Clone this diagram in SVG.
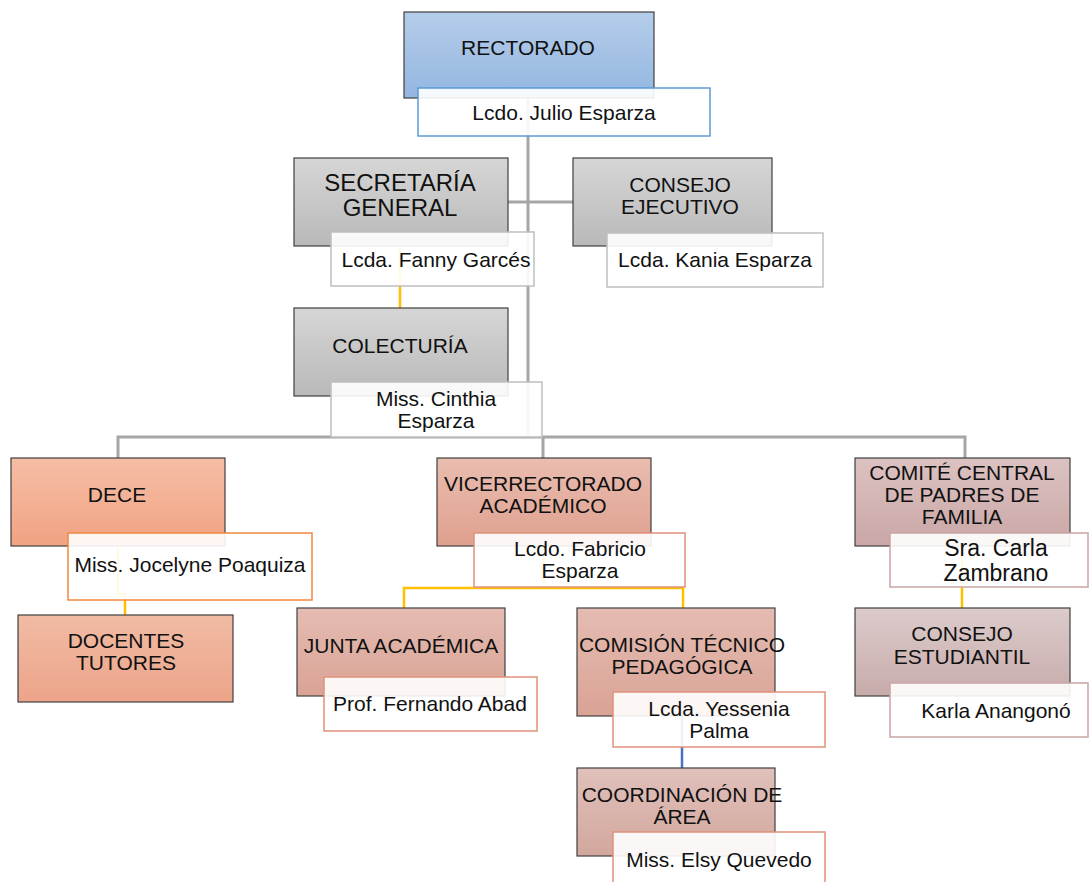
<svg xmlns="http://www.w3.org/2000/svg" width="1089" height="882" viewBox="0 0 1089 882">
<defs>
<linearGradient id="gBlue" x1="0" y1="0" x2="0" y2="1"><stop offset="0" stop-color="#b5cdea"/><stop offset="1" stop-color="#93b6e0"/></linearGradient>
<linearGradient id="gGray" x1="0" y1="0" x2="0" y2="1"><stop offset="0" stop-color="#d6d6d6"/><stop offset="1" stop-color="#b9b9b9"/></linearGradient>
<linearGradient id="gOrange" x1="0" y1="0" x2="0" y2="1"><stop offset="0" stop-color="#f5bea6"/><stop offset="1" stop-color="#f1a282"/></linearGradient>
<linearGradient id="gOrange2" x1="0" y1="0" x2="0" y2="1"><stop offset="0" stop-color="#f1bba4"/><stop offset="1" stop-color="#eca489"/></linearGradient>
<linearGradient id="gRose" x1="0" y1="0" x2="0" y2="1"><stop offset="0" stop-color="#e9bdb0"/><stop offset="1" stop-color="#dfa08e"/></linearGradient>
<linearGradient id="gRose2" x1="0" y1="0" x2="0" y2="1"><stop offset="0" stop-color="#e5bcb2"/><stop offset="1" stop-color="#d9a395"/></linearGradient>
<linearGradient id="gRose3" x1="0" y1="0" x2="0" y2="1"><stop offset="0" stop-color="#e0c1bb"/><stop offset="1" stop-color="#d2a79d"/></linearGradient>
<linearGradient id="gMauve" x1="0" y1="0" x2="0" y2="1"><stop offset="0" stop-color="#dcc2c1"/><stop offset="1" stop-color="#c9a7a6"/></linearGradient>
<linearGradient id="gMauve2" x1="0" y1="0" x2="0" y2="1"><stop offset="0" stop-color="#dccbcb"/><stop offset="1" stop-color="#c8abab"/></linearGradient>
</defs>
<style>
.box{stroke:#404040;stroke-width:1.2}
.lbl{fill:#ffffff;fill-opacity:0.9;stroke-width:1.5}
.t{font-family:"Liberation Sans",Arial,sans-serif;font-size:21px;fill:#111;text-anchor:middle}
.big{font-size:24px}
.gray{stroke:#a6a6a6;stroke-width:3;fill:none}
.yel{stroke:#ffc000;stroke-width:2.5;fill:none}
.blu{stroke:#4472c4;stroke-width:2.5;fill:none}
</style>
<g id="connectors">
<path class="gray" d="M528 98 V437"/>
<path class="gray" d="M508 202 H573"/>
<path class="gray" d="M118 458 V437 H965 V458"/>
<path class="gray" d="M543 437 V458"/>
<path class="yel" d="M400 246 V308"/>
<path class="yel" d="M118 546 V594 H125 V615"/>
<path class="yel" d="M544 546 V588"/>
<path class="yel" d="M404 608 V588 H683 V608"/>
<path class="yel" d="M962 546 V608"/>
<path class="blu" d="M682 716 V768"/>
</g>
<g id="rectorado">
<rect class="box" x="404" y="12" width="250" height="86" fill="url(#gBlue)"/>
<rect class="lbl" x="418" y="88" width="292" height="48" stroke="#5b9bd5"/>
<text class="t" x="528" y="55">RECTORADO</text>
<text class="t" x="564" y="120">Lcdo. Julio Esparza</text>
</g>
<g id="secretaria">
<rect class="box" x="294" y="158" width="214" height="88" fill="url(#gGray)"/>
<rect class="lbl" x="331" y="232" width="203" height="54" stroke="#bfbfbf"/>
<text class="t big" x="400" y="191">SECRETARÍA</text>
<text class="t big" x="400" y="216">GENERAL</text>
<text class="t" x="436" y="267">Lcda. Fanny Garcés</text>
</g>
<g id="consejo-ejecutivo">
<rect class="box" x="573" y="158" width="199" height="88" fill="url(#gGray)"/>
<rect class="lbl" x="607" y="233" width="216" height="54" stroke="#bfbfbf"/>
<text class="t" x="680" y="192">CONSEJO</text>
<text class="t" x="680" y="214">EJECUTIVO</text>
<text class="t" x="715" y="267">Lcda. Kania Esparza</text>
</g>
<g id="colecturia">
<rect class="box" x="294" y="308" width="214" height="88" fill="url(#gGray)"/>
<rect class="lbl" x="331" y="382" width="211" height="55" stroke="#bfbfbf"/>
<text class="t" x="400" y="353">COLECTURÍA</text>
<text class="t" x="436" y="406">Miss. Cinthia</text>
<text class="t" x="436" y="428">Esparza</text>
</g>
<g id="dece">
<rect class="box" x="11" y="458" width="214" height="88" fill="url(#gOrange)"/>
<rect class="lbl" x="68" y="533" width="244" height="67" stroke="#f0883e"/>
<text class="t" x="117" y="502">DECE</text>
<text class="t" x="190" y="572">Miss. Jocelyne Poaquiza</text>
</g>
<g id="docentes">
<rect class="box" x="18" y="615" width="215" height="87" fill="url(#gOrange2)"/>
<text class="t" x="126" y="648">DOCENTES</text>
<text class="t" x="126" y="670">TUTORES</text>
</g>
<g id="vicerrectorado">
<rect class="box" x="437" y="458" width="214" height="88" fill="url(#gRose)"/>
<rect class="lbl" x="474" y="533" width="211" height="54" stroke="#e0907a"/>
<text class="t" x="543" y="491">VICERRECTORADO</text>
<text class="t" x="543" y="513">ACADÉMICO</text>
<text class="t" x="580" y="556">Lcdo. Fabricio</text>
<text class="t" x="580" y="578">Esparza</text>
</g>
<g id="comite">
<rect class="box" x="855" y="458" width="215" height="88" fill="url(#gMauve)"/>
<rect class="lbl" x="890" y="533" width="198" height="54" stroke="#c9a5a4"/>
<text class="t" x="962" y="480">COMITÉ CENTRAL</text>
<text class="t" x="962" y="502">DE PADRES DE</text>
<text class="t" x="962" y="524">FAMILIA</text>
<text class="t" x="996" y="556" style="font-size:23px">Sra. Carla</text>
<text class="t" x="996" y="581" style="font-size:23px">Zambrano</text>
</g>
<g id="consejo-estudiantil">
<rect class="box" x="855" y="608" width="215" height="88" fill="url(#gMauve2)"/>
<rect class="lbl" x="890" y="683" width="198" height="54" stroke="#c9a5a4"/>
<text class="t" x="962" y="641">CONSEJO</text>
<text class="t" x="962" y="664">ESTUDIANTIL</text>
<text class="t" x="996" y="718">Karla Anangonó</text>
</g>
<g id="junta">
<rect class="box" x="297" y="608" width="208" height="88" fill="url(#gRose2)"/>
<rect class="lbl" x="324" y="677" width="213" height="54" stroke="#e0917a"/>
<text class="t" x="401" y="653">JUNTA ACADÉMICA</text>
<text class="t" x="430" y="711">Prof. Fernando Abad</text>
</g>
<g id="comision">
<rect class="box" x="577" y="608" width="198" height="108" fill="url(#gRose2)"/>
<rect class="lbl" x="613" y="692" width="212" height="55" stroke="#e0917a"/>
<text class="t" x="682" y="652">COMISIÓN TÉCNICO</text>
<text class="t" x="682" y="674">PEDAGÓGICA</text>
<text class="t" x="719" y="716">Lcda. Yessenia</text>
<text class="t" x="719" y="738">Palma</text>
</g>
<g id="coordinacion">
<rect class="box" x="577" y="768" width="198" height="88" fill="url(#gRose3)"/>
<rect class="lbl" x="613" y="832" width="212" height="55" stroke="#e0917a"/>
<text class="t" x="682" y="802">COORDINACIÓN DE</text>
<text class="t" x="682" y="824">ÁREA</text>
<text class="t" x="719" y="867">Miss. Elsy Quevedo</text>
</g>
</svg>
